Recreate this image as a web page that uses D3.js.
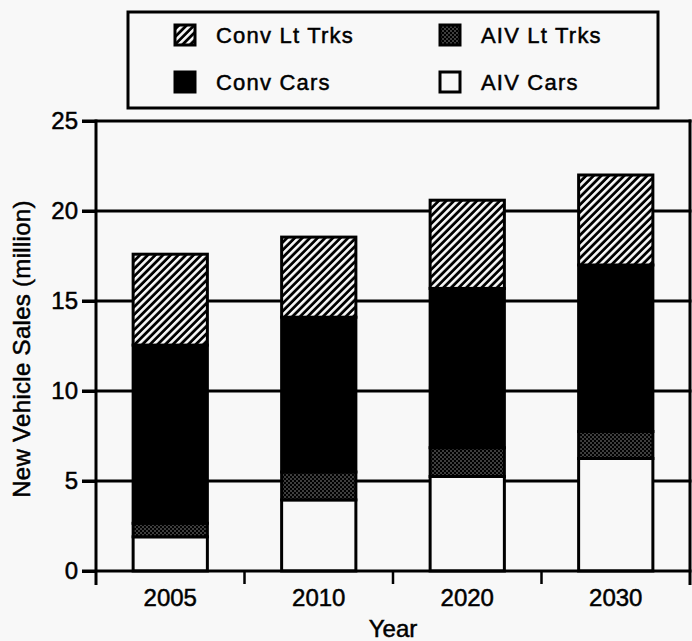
<!DOCTYPE html>
<html>
<head>
<meta charset="utf-8">
<script src="https://cdn.jsdelivr.net/npm/d3@7"></script>
<style>
  html, body { margin: 0; padding: 0; background: #f8f8f8; }
  svg { display: block; }
  text { font-family: "Liberation Sans", Arial, Helvetica, sans-serif; fill: #000; stroke: #000; stroke-width: 0.5px; }
</style>
</head>
<body>
<svg id="chart" width="692" height="641"></svg>
<script>
// ---- data ----
const years = ["2005", "2010", "2020", "2030"];
const aivCars = [1.9, 3.95, 5.25, 6.25];
const aivLtTrks = [0.75, 1.55, 1.6, 1.5];
const convCars = [9.9, 8.6, 8.85, 9.25];
const convLtTrks = [5.05, 4.45, 4.9, 5.0];
const yTicks = [0, 5, 10, 15, 20, 25];
const seriesKeys = ["AIV Cars", "AIV Lt Trks", "Conv Cars", "Conv Lt Trks"];
const legendRows = [["Conv Lt Trks", "AIV Lt Trks"], ["Conv Cars", "AIV Cars"]];

(function () {
const table = years.map((yr, i) => ({
  year: yr,
  "AIV Cars": aivCars[i],
  "AIV Lt Trks": aivLtTrks[i],
  "Conv Cars": convCars[i],
  "Conv Lt Trks": convLtTrks[i]
}));

const svg = d3.select("#chart");
const W = 692, H = 641;
svg.append("rect").attr("width", W).attr("height", H).attr("fill", "#f8f8f8");

// ---- patterns ----
const defs = svg.append("defs");
const hatch = defs.append("pattern").attr("id", "hatch")
  .attr("patternUnits", "userSpaceOnUse").attr("width", 5.4).attr("height", 5.4)
  .attr("patternTransform", "rotate(45)");
hatch.append("rect").attr("width", 5.4).attr("height", 5.4).attr("fill", "#000");
hatch.append("rect").attr("width", 2.6).attr("height", 5.4).attr("fill", "#f8f8f8");

const dots = defs.append("pattern").attr("id", "dots")
  .attr("patternUnits", "userSpaceOnUse").attr("width", 4).attr("height", 4);
dots.append("rect").attr("width", 4).attr("height", 4).attr("fill", "#000");
dots.append("rect").attr("x", 0.5).attr("y", 0.5).attr("width", 1).attr("height", 1).attr("fill", "#f8f8f8");
dots.append("rect").attr("x", 2.5).attr("y", 2.5).attr("width", 1).attr("height", 1).attr("fill", "#f8f8f8");

const fills = {
  "AIV Cars": "#f8f8f8",
  "AIV Lt Trks": "url(#dots)",
  "Conv Cars": "#000",
  "Conv Lt Trks": "url(#hatch)"
};

// ---- scales ----
const pLeft = 96, pRight = 690, pTop = 121, pBottom = 571;
const x = d3.scaleBand().domain(years).range([pLeft, pRight]).paddingInner(0.5).paddingOuter(0.25);
const y = d3.scaleLinear().domain([0, 25]).range([pBottom, pTop]);

// ---- gridlines (with outward tick part) ----
const g = svg.append("g");
g.selectAll(null).data(yTicks.filter(t => t > 0)).enter().append("line")
  .attr("x1", pLeft - 14).attr("x2", pRight + 1.5)
  .attr("y1", d => y(d)).attr("y2", d => y(d))
  .attr("stroke", "#000").attr("stroke-width", 3);

// right border
g.append("line").attr("x1", pRight).attr("x2", pRight).attr("y1", y(25) - 1.5).attr("y2", pBottom + 14)
  .attr("stroke", "#000").attr("stroke-width", 3);

// ---- bars ----
const stacked = d3.stack().keys(seriesKeys)(table);
const barG = svg.append("g");
stacked.forEach(layer => {
  barG.selectAll(null).data(layer).enter().append("rect")
    .attr("x", d => x(d.data.year))
    .attr("width", x.bandwidth())
    .attr("y", d => y(d[1]))
    .attr("height", d => y(d[0]) - y(d[1]))
    .attr("fill", fills[layer.key])
    .attr("stroke", "#000").attr("stroke-width", 3);
});

// ---- axes ----
const yAxis = d3.axisLeft(y).tickValues(yTicks).tickSize(14).tickPadding(4);
const yAxisG = svg.append("g").attr("transform", `translate(${pLeft},0)`).call(yAxis);
yAxisG.select(".domain").remove();
yAxisG.selectAll(".tick line").attr("stroke", "#000").attr("stroke-width", 3);
yAxisG.selectAll(".tick text").attr("font-size", 24).attr("font-family", "Liberation Sans, Arial, sans-serif");
// y axis line
svg.append("line").attr("x1", pLeft).attr("x2", pLeft).attr("y1", y(25) - 1.5).attr("y2", pBottom + 14)
  .attr("stroke", "#000").attr("stroke-width", 3);

// x axis line
svg.append("line").attr("x1", pLeft - 14).attr("x2", pRight + 1.5).attr("y1", pBottom).attr("y2", pBottom)
  .attr("stroke", "#000").attr("stroke-width", 3);

// boundary ticks between categories
const step = x.step();
const boundaries = d3.range(1, years.length).map(i => pLeft + i * step);
svg.selectAll(null).data(boundaries).enter().append("line")
  .attr("x1", d => d).attr("x2", d => d).attr("y1", pBottom).attr("y2", pBottom + 13)
  .attr("stroke", "#000").attr("stroke-width", 2.5);

// category labels via axis
const xAxis = d3.axisBottom(x).tickSize(0).tickPadding(18);
const xAxisG = svg.append("g").attr("transform", `translate(0,${pBottom})`).call(xAxis);
xAxisG.select(".domain").remove();
xAxisG.selectAll(".tick text").attr("font-size", 24).attr("font-family", "Liberation Sans, Arial, sans-serif");

// axis titles
svg.append("text").attr("x", (pLeft + pRight) / 2).attr("y", 637)
  .attr("text-anchor", "middle").attr("font-size", 24).text("Year");
svg.append("text")
  .attr("transform", `translate(30,${349}) rotate(-90)`)
  .attr("text-anchor", "middle").attr("font-size", 24).attr("letter-spacing", 0.3)
  .text("New Vehicle Sales (million)");

// ---- legend ----
const lg = svg.append("g");
lg.append("rect").attr("x", 128).attr("y", 12).attr("width", 530).attr("height", 96)
  .attr("fill", "#f8f8f8").attr("stroke", "#000").attr("stroke-width", 3);
const colX = [175, 440];
const rowY = [25, 72];
legendRows.forEach((row, r) => {
  row.forEach((key, c) => {
    lg.append("rect").attr("x", colX[c]).attr("y", rowY[r]).attr("width", 20).attr("height", 20)
      .attr("fill", fills[key]).attr("stroke", "#000").attr("stroke-width", 3);
    lg.append("text").attr("x", colX[c] + 41).attr("y", rowY[r] + 10)
      .attr("dy", "0.35em").attr("font-size", 22).attr("letter-spacing", 1.2).text(key);
  });
});
})();
</script>
</body>
</html>
